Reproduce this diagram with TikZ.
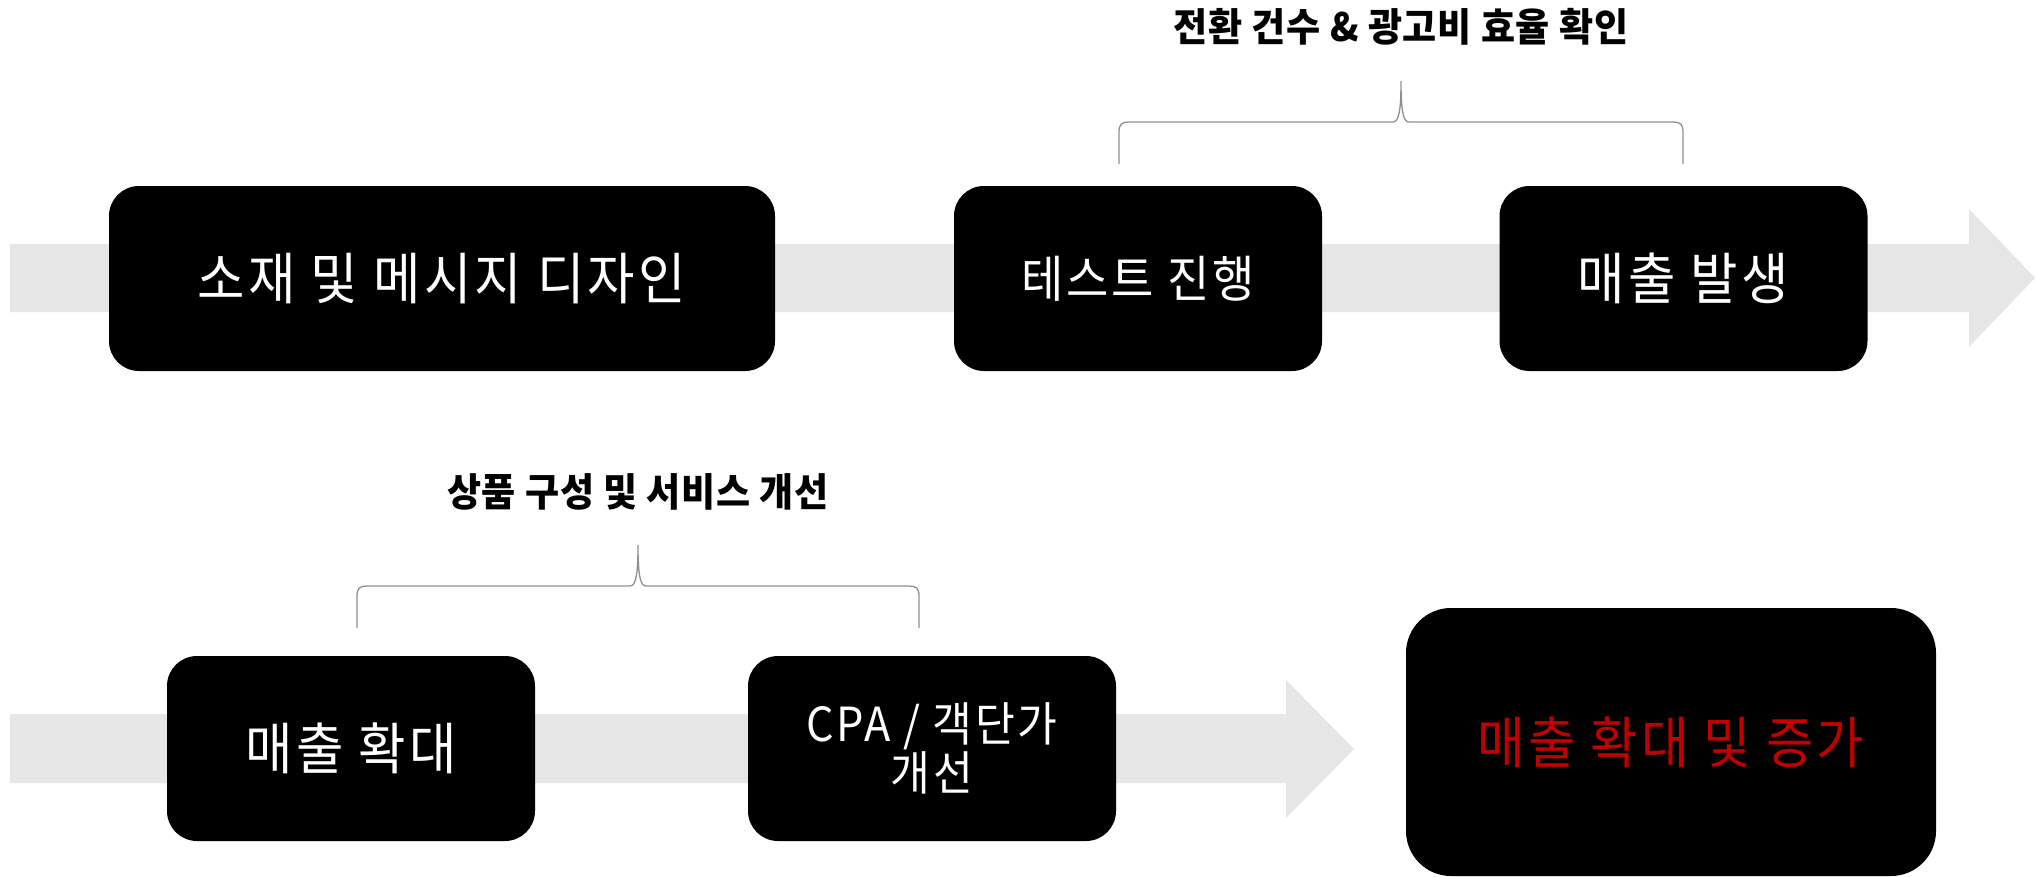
\documentclass[tikz,border=0pt]{standalone}
\usepackage{fontspec}
\setmainfont{Noto Sans CJK KR}
\newfontfamily\boxfont[FakeStretch=0.92,LetterSpace=6]{Noto Sans CJK KR}
\newfontfamily\notefont[FakeStretch=0.95,LetterSpace=2]{Noto Sans CJK KR}
\definecolor{bandgray}{HTML}{E6E6E6}
\definecolor{bracegray}{HTML}{8F8F8F}
\definecolor{salesred}{HTML}{C00000}
\tikzset{box/.style={rounded corners=30pt,fill=black,text=white,
		minimum width=368pt,minimum height=185pt,inner sep=0pt,align=center,
		font=\boxfont\fontsize{56}{60}\selectfont},
	note/.style={inner sep=0pt,font=\notefont\bfseries\fontsize{39}{44}\selectfont},
	brace line/.style={draw=bracegray,line width=1.3pt},
	band/.style={fill=bandgray},
	pics/hbrace/.style={code={
		\draw[brace line] (-#1,83) -- (-#1,51) .. controls (-#1,43) and (-#1+3,41) .. (-#1+10,41)
			-- (-8,41) .. controls (-2,41) and (0,29) .. (0,0)
			.. controls (0,29) and (2,41) .. (8,41)
			-- (#1-10,41) .. controls (#1-3,41) and (#1,43) .. (#1,51) -- (#1,83);
	}}}

\begin{document}
\begin{tikzpicture}[x=1pt,y=-1pt]
		\fill[white] (0,0) rectangle (2036,876);
		\useasboundingbox (0,0) rectangle (2036,876);
		\fill[band] (10,244) -- (1969,244) -- (1969,209) -- (2035,278) -- (1969,347) -- (1969,312) -- (10,312) -- cycle;
		\fill[band] (10,714) -- (1286,714) -- (1286,680) -- (1354,749) -- (1286,818) -- (1286,783) -- (10,783) -- cycle;
		\node[box,minimum width=666pt] (design) at (442,278.5) {소재 및 메시지 디자인};
		\node[box,font=\boxfont\fontsize{50}{54}\selectfont] (test) at (1138,278.5) {테스트 진행};
		\node[box] (sales) at (1683.5,278.5) {매출 발생};
		\node[box] (expand) at (351,748.5) {매출 확대};
		\node[box,font=\boxfont\fontsize{47}{49}\selectfont] (cpa) at (932,748.5) {CPA / 객단가\\개선};
		\node[box,minimum width=530pt,minimum height=268pt,rounded corners=45pt,text=salesred] (growth) at (1671,742) {매출 확대 및 증가};
		\coordinate (convtip) at (1401,81);
		\coordinate (prodtip) at (638,545);
		\pic at (convtip) {hbrace=282};
		\pic at (prodtip) {hbrace=281};
		\node[note] (conv) at (1401,27) {전환 건수 \& 광고비 효율 확인};
		\node[note] (prod) at (638,492) {상품 구성 및 서비스 개선};
	\end{tikzpicture}
\end{document}
